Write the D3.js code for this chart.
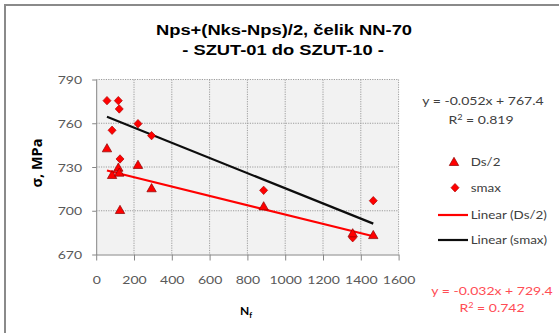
<!DOCTYPE html>
<html>
<head>
<meta charset="utf-8">
<script src="https://cdn.jsdelivr.net/npm/d3@7"></script>
<style>
  html, body { margin: 0; padding: 0; background: #ffffff; }
  svg { display: block; }
</style>
</head>
<body>
<svg id="chart" width="559" height="333"></svg>
<script>
// ---------- data ----------
const nf     = [57, 84, 117, 122, 126, 221, 293, 886, 1357, 1466];
const ds2    = [742.8, 724.5, 729.5, 726.1, 700.5, 731.4, 715.4, 703.0, 684.5, 683.3];
const smax   = [775.5, 755.2, 775.5, 769.8, 735.5, 759.7, 751.5, 714.0, 681.5, 706.9];
const seriesNames = ["Ds/2", "smax"];
const trendNames  = ["Linear (Ds/2)", "Linear (smax)"];
const trendSlope     = [-0.032, -0.052];
const trendIntercept = [729.4, 767.4];
const trendEq = ["y = -0.032x + 729.4", "y = -0.052x + 767.4"];
const trendR2 = ["0.742", "0.819"];
const xTicks = [0, 200, 400, 600, 800, 1000, 1200, 1400, 1600];
const yTicks = [670, 700, 730, 760, 790];
const titleLines = ["Nps+(Nks-Nps)/2, čelik NN-70", "- SZUT-01 do SZUT-10 -"];

// ---------- layout ----------
const svg = d3.select("#chart");
const SX = 1.22;             // horizontal stretch of text seen in the reference
const TXT = "Lato, 'Open Sans', sans-serif";

// outer chart frame
svg.append("rect").attr("x", 0).attr("y", 0).attr("width", 559).attr("height", 333).attr("fill", "#ffffff");
svg.append("rect").attr("x", 5).attr("y", 5).attr("width", 700).attr("height", 500)
  .attr("fill", "none").attr("stroke", "#8a8a8a").attr("stroke-width", 2);

const x = d3.scaleLinear().domain([0, 1600]).range([96.2, 398.6]);
const y = d3.scaleLinear().domain([670, 790]).range([254.5, 79.5]);

function stext(parent, px, py, str, o) {
  const t = parent.append("text")
    .attr("transform", `translate(${px},${py}) scale(${o.sx || 1},1)`)
    .attr("text-anchor", o.anchor || "start")
    .attr("font-family", o.family || TXT)
    .attr("font-size", o.size || 11.5)
    .attr("font-weight", o.weight || "normal")
    .attr("fill", o.fill || "#404040")
    .text(str);
  return t;
}

// plot area
svg.append("rect")
  .attr("x", x(0)).attr("y", y(790))
  .attr("width", x(1600) - x(0)).attr("height", y(670) - y(790))
  .attr("fill", "#f2f2f2");

// gridlines
const grid = svg.append("g").attr("stroke", "#9c9c9c").attr("stroke-width", 1).attr("stroke-dasharray", "1.2,1.2");
grid.selectAll("line.h").data(yTicks.filter(v => v !== 670)).join("line")
  .attr("x1", x(0)).attr("x2", x(1600)).attr("y1", d => y(d)).attr("y2", d => y(d));
grid.selectAll("line.v").data(xTicks.filter(v => v !== 0)).join("line")
  .attr("x1", d => x(d)).attr("x2", d => x(d)).attr("y1", y(790)).attr("y2", y(670));

// axes
const axB = svg.append("g").attr("transform", `translate(0,${y(670)})`)
  .call(d3.axisBottom(x).tickValues(xTicks).tickSize(6).tickSizeOuter(0).tickFormat(d3.format("d")));
axB.select(".domain").attr("stroke", "#868686");
axB.selectAll(".tick line").attr("stroke", "#868686");
axB.selectAll(".tick text")
  .attr("y", 29.5).attr("dy", 0)
  .attr("transform", `scale(${SX},1)`)
  .attr("font-family", TXT).attr("font-size", 11.5).attr("fill", "#595959");

const axL = svg.append("g").attr("transform", `translate(${x(0)},0)`)
  .call(d3.axisLeft(y).tickValues(yTicks).tickSize(4).tickSizeOuter(0).tickFormat(d3.format("d")));
axL.select(".domain").attr("stroke", "#868686");
axL.selectAll(".tick line").attr("stroke", "#868686");
axL.selectAll(".tick text")
  .attr("x", -14.2 / SX).attr("dy", "0.36em")
  .attr("transform", `scale(${SX},1)`)
  .attr("font-family", TXT).attr("font-size", 11.5).attr("fill", "#595959");

// trend lines
const trendColors = ["#ff0000", "#0d0d0d"];
const trendSeries = [ds2, smax];
trendSeries.forEach((vals, i) => {
  const x0 = d3.min(nf), x1 = d3.max(nf);
  const line = d3.line().x(d => x(d[0])).y(d => y(d[1]));
  svg.append("path")
    .attr("d", line([[x0, trendIntercept[i] + trendSlope[i] * x0], [x1, trendIntercept[i] + trendSlope[i] * x1]]))
    .attr("stroke", trendColors[i]).attr("stroke-width", 2.2).attr("fill", "none");
});

// markers
const triPath = "M0,-4.7L4.7,3.5L-4.7,3.5Z";
const diaPath = "M0,-4.2L4,0L0,4.2L-4,0Z";
svg.append("g").selectAll("path").data(nf.map((n, i) => [n, smax[i]])).join("path")
  .attr("d", diaPath)
  .attr("transform", d => `translate(${x(d[0])},${y(d[1])})`)
  .attr("fill", "#ff0000").attr("stroke", "#b00000").attr("stroke-width", 0.7);
svg.append("g").selectAll("path").data(nf.map((n, i) => [n, ds2[i]])).join("path")
  .attr("d", triPath)
  .attr("transform", d => `translate(${x(d[0])},${y(d[1])})`)
  .attr("fill", "#ff0000").attr("stroke", "#8b0000").attr("stroke-width", 0.7);

// title
stext(svg, 284, 34.5, titleLines[0], { anchor: "middle", family: "'Liberation Sans', Arial, sans-serif", size: 14, weight: "bold", fill: "#000000", sx: 1.31 });
stext(svg, 283, 55, titleLines[1], { anchor: "middle", family: "'Liberation Sans', Arial, sans-serif", size: 14, weight: "bold", fill: "#000000", sx: 1.31 });

// axis titles
const xt = svg.append("text").attr("x", 246).attr("y", 315)
  .attr("text-anchor", "middle").attr("font-family", TXT).attr("font-size", 12)
  .attr("font-weight", "bold").attr("fill", "#000000");
xt.append("tspan").text("N");
xt.append("tspan").attr("font-size", 8).attr("dy", 3).text("f");

svg.append("text")
  .attr("transform", "translate(42,163) rotate(-90)")
  .attr("text-anchor", "middle").attr("font-family", "'Open Sans', sans-serif")
  .attr("font-size", 14.5).attr("font-weight", "bold").attr("fill", "#000000")
  .text("σ, MPa");

// trend equations
stext(svg, 483, 104.8, trendEq[1], { anchor: "middle", size: 11.5, fill: "#404040", sx: SX });
const r2b = stext(svg, 481, 124, "R", { anchor: "middle", size: 11.5, fill: "#404040", sx: SX });
r2b.text(null);
r2b.append("tspan").text("R");
r2b.append("tspan").attr("font-size", 7.5).attr("dy", -4).text("2");
r2b.append("tspan").attr("dy", 4).text(" = " + trendR2[1]);

stext(svg, 492, 294.8, trendEq[0], { anchor: "middle", size: 11.5, fill: "#ff4d55", sx: SX });
const r2r = stext(svg, 492, 312, "R", { anchor: "middle", size: 11.5, fill: "#ff4d55", sx: SX });
r2r.text(null);
r2r.append("tspan").text("R");
r2r.append("tspan").attr("font-size", 7.5).attr("dy", -4).text("2");
r2r.append("tspan").attr("dy", 4).text(" = " + trendR2[0]);

// legend
const lg = svg.append("g");
lg.append("path").attr("d", triPath).attr("transform", "translate(454,162)")
  .attr("fill", "#ff0000").attr("stroke", "#8b0000").attr("stroke-width", 0.7);
stext(lg, 470.7, 165.8, seriesNames[0], { size: 11, fill: "#404040", sx: SX });
lg.append("path").attr("d", diaPath).attr("transform", "translate(455,187.7)")
  .attr("fill", "#ff0000").attr("stroke", "#b00000").attr("stroke-width", 0.7);
stext(lg, 470.7, 191.5, seriesNames[1], { size: 11, fill: "#404040", sx: SX });
lg.append("line").attr("x1", 438).attr("x2", 468).attr("y1", 215).attr("y2", 215)
  .attr("stroke", trendColors[0]).attr("stroke-width", 2.2);
stext(lg, 470.7, 219, trendNames[0], { size: 11, fill: "#404040", sx: SX });
lg.append("line").attr("x1", 438).attr("x2", 468).attr("y1", 240).attr("y2", 240)
  .attr("stroke", trendColors[1]).attr("stroke-width", 2.2);
stext(lg, 470.7, 244, trendNames[1], { size: 11, fill: "#404040", sx: SX });
</script>
</body>
</html>
